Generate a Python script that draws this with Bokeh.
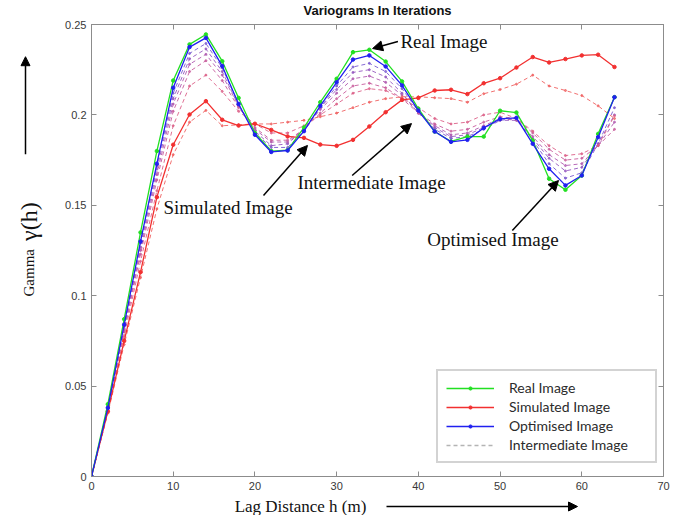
from bokeh.plotting import figure
from bokeh.layouts import column, row
from bokeh.models import (Range1d, LinearAxis, FixedTicker, CustomJSTickFormatter, Label,
                          Arrow, NormalHead, Legend, LegendItem)
from bokeh.embed import file_html
from bokeh.resources import INLINE
import math

# ---------------- data ----------------
lag = [0, 2, 4, 6, 8, 10, 12, 14, 16, 18, 20, 22, 24, 26, 28, 30, 32,
       34, 36, 38, 40, 42, 44, 46, 48, 50, 52, 54, 56, 58, 60, 62, 64]

real_image = [0, 0.040, 0.087, 0.135, 0.180, 0.219, 0.239, 0.2445, 0.2297, 0.2094, 0.190,
              0.180, 0.1805, 0.193, 0.207, 0.220, 0.2347, 0.236, 0.2295, 0.2185, 0.2034,
              0.1908, 0.1853, 0.188, 0.188, 0.2023, 0.2013, 0.1858, 0.1647, 0.1586, 0.1665,
              0.1895, 0.2098]

simulated_image = [0, 0.036, 0.075, 0.113, 0.1545, 0.1835, 0.2002, 0.2076, 0.1973, 0.1941,
                   0.1951, 0.1917, 0.1881, 0.1873, 0.1836, 0.1829, 0.1862, 0.1936, 0.2015,
                   0.2083, 0.2094, 0.2135, 0.2139, 0.2115, 0.2175, 0.2203, 0.2262, 0.232,
                   0.229, 0.2309, 0.2329, 0.2333, 0.2265]

optimised_image = [0, 0.038, 0.084, 0.130, 0.173, 0.215, 0.2375, 0.2426, 0.227, 0.206, 0.189,
                   0.1795, 0.1803, 0.191, 0.205, 0.218, 0.2306, 0.2329, 0.2268, 0.2163, 0.2024,
                   0.1908, 0.1851, 0.1862, 0.1928, 0.1978, 0.1984, 0.184, 0.1702, 0.161, 0.1665,
                   0.1877, 0.2098]

intermediate_1 = [0, 0.038, 0.083, 0.129, 0.172, 0.212, 0.234, 0.2395, 0.226, 0.206, 0.190,
                  0.182, 0.182, 0.191, 0.204, 0.216, 0.2265, 0.2285, 0.224, 0.2145, 0.202,
                  0.192, 0.187, 0.188, 0.192, 0.197, 0.198, 0.186, 0.173, 0.165, 0.168,
                  0.184, 0.204]
intermediate_2 = [0, 0.037, 0.082, 0.127, 0.170, 0.209, 0.231, 0.2365, 0.224, 0.205, 0.191,
                  0.183, 0.184, 0.192, 0.204, 0.214, 0.2235, 0.225, 0.221, 0.212, 0.201,
                  0.193, 0.188, 0.189, 0.193, 0.197, 0.197, 0.187, 0.176, 0.169, 0.171,
                  0.184, 0.200]
intermediate_3 = [0, 0.037, 0.081, 0.125, 0.167, 0.206, 0.228, 0.2335, 0.222, 0.205, 0.192,
                  0.185, 0.185, 0.192, 0.203, 0.212, 0.220, 0.2215, 0.218, 0.211, 0.201,
                  0.194, 0.189, 0.190, 0.194, 0.198, 0.197, 0.188, 0.178, 0.172, 0.173,
                  0.183, 0.196]
intermediate_4 = [0, 0.036, 0.080, 0.123, 0.164, 0.202, 0.224, 0.230, 0.219, 0.204, 0.193,
                  0.186, 0.186, 0.192, 0.201, 0.209, 0.216, 0.2175, 0.215, 0.209, 0.201,
                  0.195, 0.191, 0.192, 0.196, 0.199, 0.198, 0.190, 0.181, 0.175, 0.176,
                  0.183, 0.192]
intermediate_5 = [0, 0.036, 0.078, 0.119, 0.158, 0.194, 0.216, 0.222, 0.213, 0.202, 0.195,
                  0.190, 0.190, 0.194, 0.200, 0.206, 0.212, 0.2145, 0.2135, 0.209, 0.204,
                  0.198, 0.195, 0.196, 0.200, 0.2015, 0.198, 0.191, 0.183, 0.1775, 0.1785,
                  0.183, 0.1995]
intermediate_6 = [0, 0.035, 0.073, 0.110, 0.148, 0.178, 0.196, 0.2025, 0.194, 0.1945, 0.195,
                  0.195, 0.196, 0.197, 0.199, 0.201, 0.204, 0.207, 0.209, 0.210, 0.210,
                  0.2095, 0.209, 0.207, 0.2117, 0.214, 0.217, 0.222, 0.216, 0.2135, 0.2107,
                  0.205, 0.198]

intermediates = [intermediate_1, intermediate_2, intermediate_3,
                 intermediate_4, intermediate_5, intermediate_6]
intermediate_colors = ["#7a5ad0", "#9558c0", "#b05ab0", "#c85c9c", "#dc6088", "#f06262"]

x_ticks = [0, 10, 20, 30, 40, 50, 60, 70]
y_ticks = [0, 0.05, 0.1, 0.15, 0.2, 0.25]

series_names = ["Real Image", "Simulated Image", "Optimised Image", "Intermediate Image"]

SERIF = "Liberation Serif"


def strip(width, height):
    f = figure(width=width, height=height, x_range=Range1d(0, width), y_range=Range1d(0, height),
               output_backend="svg", toolbar_location=None, x_axis_type=None, y_axis_type=None,
               min_border=0, min_border_left=0, min_border_right=0, min_border_top=0,
               min_border_bottom=0)
    f.outline_line_color = None
    f.xgrid.visible = False
    f.ygrid.visible = False
    f.background_fill_color = "white"
    f.border_fill_color = "white"
    return f


def arrow(fig, x0, y0, x1, y1, size=10, width=1.5):
    fig.add_layout(Arrow(x_start=x0, y_start=y0, x_end=x1, y_end=y1, line_width=width,
                         line_color="black",
                         end=NormalHead(size=size, fill_color="black", line_color="black")))


def label(fig, text, x, y, size, align="left", angle=0.0, font=SERIF, style="normal",
          color="#111111"):
    fig.add_layout(Label(x=x, y=y, text=text, text_font=font, text_font_size=size,
                         text_align=align, text_baseline="middle", angle=angle,
                         text_font_style=style, text_color=color))


# ---------------- main figure ----------------
p = figure(width=620, height=477, x_range=Range1d(0, 70), y_range=Range1d(0, 0.25),
           output_backend="svg", toolbar_location=None,
           min_border_left=41, min_border_right=7, min_border_top=6, min_border_bottom=19)
p.background_fill_color = "white"
p.border_fill_color = "white"
p.outline_line_color = "#8c8c8c"
p.xgrid.visible = False
p.ygrid.visible = False

axis_color = "#8c8c8c"
for ax in [p.xaxis[0], p.yaxis[0]]:
    ax.axis_line_color = axis_color
    ax.major_tick_line_color = axis_color
    ax.major_tick_in = 5
    ax.major_tick_out = 0
    ax.minor_tick_line_color = None
    ax.major_label_text_font = "Liberation Sans"
    ax.major_label_text_font_size = "11px"
    ax.major_label_text_color = "#383838"
p.xaxis.ticker = FixedTicker(ticks=x_ticks)
p.yaxis.ticker = FixedTicker(ticks=y_ticks)
p.yaxis.formatter = CustomJSTickFormatter(code="return String(Math.round(tick*1000)/1000);")
p.xaxis.formatter = CustomJSTickFormatter(code="return String(Math.round(tick));")
p.xaxis.major_label_standoff = 5
p.yaxis.major_label_standoff = 5

top_axis = LinearAxis(ticker=FixedTicker(ticks=x_ticks),
                      formatter=CustomJSTickFormatter(code="return '';"))
right_axis = LinearAxis(ticker=FixedTicker(ticks=y_ticks),
                        formatter=CustomJSTickFormatter(code="return '';"))
for ax in [top_axis, right_axis]:
    ax.axis_line_color = axis_color
    ax.major_tick_line_color = axis_color
    ax.major_tick_in = 5
    ax.major_tick_out = 0
    ax.minor_tick_line_color = None
    ax.major_label_standoff = 0
p.add_layout(top_axis, "above")
p.add_layout(right_axis, "right")

for vals, col in zip(intermediates, intermediate_colors):
    p.line(lag, vals, line_color=col, line_width=1, line_dash="4 3", line_alpha=0.9)
    p.scatter(lag, vals, size=2, color=col, alpha=0.8)

red_l = p.line(lag, simulated_image, line_color="#f23030", line_width=1.3)
red_s = p.scatter(lag, simulated_image, size=3.5, color="#f23030")
green_l = p.line(lag, real_image, line_color="#22e022", line_width=1.3)
green_s = p.scatter(lag, real_image, size=3.5, color="#22e022")
blue_l = p.line(lag, optimised_image, line_color="#2020f0", line_width=1.3)
blue_s = p.scatter(lag, optimised_image, size=3.5, color="#2020f0")
# legend-only entry (one NaN row, so nothing shows in the plot)
dummy = p.line([float("nan")], [float("nan")], line_color="#b4b4b4", line_width=1.5,
               line_dash="4 3")

legend = Legend(items=[
    LegendItem(label=series_names[0], renderers=[green_l, green_s]),
    LegendItem(label=series_names[1], renderers=[red_l, red_s]),
    LegendItem(label=series_names[2], renderers=[blue_l, blue_s]),
    LegendItem(label=series_names[3], renderers=[dummy]),
], location=(345, 13))
legend.border_line_color = "#a8a8a8"
legend.border_line_width = 2
legend.background_fill_color = "white"
legend.label_text_font = "Lato"
legend.label_text_font_size = "14px"
legend.label_text_color = "#2b2b2b"
legend.glyph_width = 48
legend.glyph_height = 8
legend.label_height = 8
legend.label_width = 138
legend.label_standoff = 15
legend.spacing = 2
legend.padding = 8
legend.margin = 0
p.add_layout(legend, "center")

# in-plot annotations (data coordinates)
label(p, "Real Image", 37.8, 0.2406, "19px")
arrow(p, 37.5, 0.2406, 34.4, 0.2367)
label(p, "Simulated Image", 8.8, 0.1488, "19px")
arrow(p, 21.05, 0.1554, 26.43, 0.1831)
label(p, "Intermediate Image", 25.2, 0.1626, "19px")
arrow(p, 31.9, 0.1665, 39.16, 0.1952)
label(p, "Optimised Image", 41.1, 0.1311, "19px")
arrow(p, 51.5, 0.1361, 57.15, 0.1637)

# ---------------- surrounding strips (title and axis titles) ----------------
top = strip(670, 18)
label(top, "Variograms In Iterations", 377, 8, "13px", align="center",
      font="Liberation Sans", style="bold")

left = strip(50, 477)
label(left, "Gamma", 28, 215, "15px", align="center", angle=math.pi / 2)
label(left, "\u03b3(h)", 28, 269, "24px", align="center", angle=math.pi / 2)
arrow(left, 25, 340, 25, 443, size=9, width=1.5)

bottom = strip(670, 20)
label(bottom, "Lag Distance h (m)", 300, 9, "17px", align="center")
arrow(bottom, 386, 9, 577, 9, size=9, width=1.5)

layout = column(top, row(left, p, spacing=0), bottom, spacing=0)

open("out.html", "w").write(file_html(layout, INLINE))
